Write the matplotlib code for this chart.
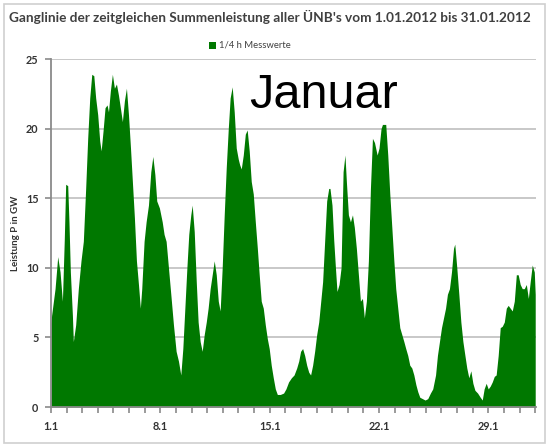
import matplotlib
matplotlib.use("Agg")
import matplotlib.pyplot as plt
from matplotlib.patches import Rectangle

# ---- data ----
days = [0.0, 0.04, 0.26, 0.43, 0.58, 0.73, 0.85, 0.94, 1.07, 1.15, 1.24, 1.37, 1.43, 1.58, 1.75, 1.92,
        2.07, 2.22, 2.35, 2.48, 2.61, 2.74, 2.86, 2.99, 3.12, 3.21, 3.33, 3.46, 3.59, 3.68, 3.80, 3.93,
        4.06, 4.19, 4.32, 4.44, 4.57, 4.70, 4.83, 4.96, 5.09, 5.21, 5.34, 5.47, 5.60, 5.72,
        5.81, 5.96, 6.09, 6.24, 6.39, 6.52, 6.65, 6.77, 6.94, 7.12, 7.24, 7.37, 7.52, 7.67, 7.84, 8.01,
        8.16, 8.31, 8.44, 8.57, 8.70, 8.82, 8.95, 9.04, 9.17, 9.30, 9.42, 9.55, 9.68, 9.81, 9.94, 10.06,
        10.19, 10.32, 10.45, 10.58, 10.71, 10.83, 10.96, 11.09, 11.22, 11.35, 11.47, 11.60, 11.73, 11.86,
        11.99, 12.08, 12.18, 12.31, 12.44, 12.56, 12.69, 12.82, 12.95, 13.08, 13.21, 13.33, 13.46, 13.59,
        13.72, 13.85, 13.97, 14.10, 14.23, 14.36, 14.49, 14.68, 14.89, 15.04, 15.21, 15.39, 15.56, 15.73,
        15.86, 15.98, 16.11, 16.24, 16.37, 16.50, 16.62, 16.75, 16.88, 17.01, 17.14, 17.27, 17.39, 17.52,
        17.65, 17.78, 17.86, 17.99, 18.10, 18.21, 18.31, 18.44, 18.57, 18.70, 18.82, 18.91, 19.04, 19.17,
        19.30, 19.42, 19.55, 19.68, 19.81, 19.94, 20.06, 20.19, 20.32, 20.45, 20.58, 20.71, 20.88, 21.00,
        21.13, 21.22, 21.43, 21.56, 21.69, 21.82, 21.95, 22.07, 22.20, 22.33, 22.46, 22.59, 22.71, 22.84,
        22.97, 23.10, 23.23, 23.36, 23.48, 23.61, 23.78, 23.95, 24.12, 24.29, 24.44, 24.62, 24.74, 24.87,
        25.00, 25.13, 25.26, 25.38, 25.51, 25.64, 25.77, 25.85, 25.98, 26.11, 26.24, 26.37, 26.50, 26.62,
        26.75, 26.88, 27.01, 27.14, 27.31, 27.48, 27.61, 27.73, 27.86, 27.99, 28.12, 28.25, 28.38, 28.50,
        28.63, 28.76, 28.89, 29.02, 29.15, 29.27, 29.40, 29.53, 29.66, 29.79, 29.91, 30.04, 30.17, 30.30,
        30.43, 30.56, 30.68, 30.81, 30.94, 31.0]
power_gw = [6.0, 6.6, 8.5, 10.8, 9.7, 7.6, 12.0, 16.0, 15.9, 13.3, 9.7, 6.6, 4.7, 5.9, 8.5, 10.5,
            11.9, 15.7, 19.3, 22.2, 23.9, 23.8, 22.2, 21.0, 19.1, 18.4, 19.8, 21.5, 21.7, 21.2, 22.7, 23.9,
            22.9, 23.2, 22.4, 21.5, 20.5, 22.0, 22.9, 21.0, 18.6, 16.2, 13.6, 10.5, 8.8, 7.1,
            8.5, 11.9, 13.3, 14.5, 16.9, 18.0, 16.7, 14.8, 14.3, 13.3, 12.4, 11.9, 10.0, 8.1, 5.9, 4.0,
            3.3, 2.3, 4.2, 7.1, 10.0, 12.4, 13.8, 14.5, 12.6, 9.0, 6.1, 4.7, 4.0, 5.2, 6.1, 7.1,
            8.5, 9.5, 10.5, 9.5, 7.6, 6.9, 10.0, 13.8, 17.2, 20.0, 22.2, 23.0, 21.2, 18.6,
            17.8, 17.4, 17.1, 18.1, 19.6, 19.9, 18.4, 16.2, 15.3, 13.3, 11.4, 9.5, 7.6, 7.1,
            5.9, 4.9, 4.2, 3.0, 2.1, 1.3, 0.9, 0.9, 1.0, 1.3, 1.8, 2.1, 2.3, 2.8,
            3.3, 4.0, 4.2, 3.7, 3.0, 2.5, 2.3, 3.0, 4.0, 5.2, 6.1, 7.6, 9.0, 11.9,
            14.8, 15.7, 15.7, 14.5, 12.0, 10.0, 8.3, 8.8, 10.0, 16.9, 18.1, 16.2, 13.8, 13.3,
            13.8, 12.9, 11.4, 9.5, 7.6, 7.8, 6.4, 7.6, 10.5, 15.7, 19.3, 19.0, 18.1, 18.6,
            20.0, 20.3, 20.3, 18.1, 15.3, 12.9, 10.5, 8.5, 7.1, 5.7, 5.2, 4.7, 4.2, 3.7,
            3.0, 2.8, 2.3, 1.6, 1.1, 0.7, 0.6, 0.5, 0.6, 1.0, 1.3, 2.3, 3.7, 4.7,
            5.7, 6.4, 7.1, 8.1, 8.5, 9.7, 11.4, 11.7, 10.0, 8.1, 6.1, 4.7, 3.7, 2.8,
            2.1, 2.6, 1.7, 1.2, 1.0, 0.7, 0.5, 1.3, 1.7, 1.3, 1.5, 1.8, 2.2, 2.3,
            3.7, 5.7, 5.8, 6.1, 7.1, 7.3, 7.1, 6.9, 7.6, 9.5, 9.5, 8.8, 8.5, 8.5,
            8.8, 7.8, 9.0, 10.2, 9.7, 8.1]
tick_days = [0, 7, 14, 21, 28]
tick_labels = ["1.1", "8.1", "15.1", "22.1", "29.1"]
y_ticks = [0, 5, 10, 15, 20, 25]

title = "Ganglinie der zeitgleichen Summenleistung aller ÜNB's vom 1.01.2012 bis 31.01.2012"
legend_label = "1/4 h Messwerte"
ylabel = "Leistung P in GW"

W, H = 547, 446
fig = plt.figure(figsize=(W / 100, H / 100), dpi=100)
fig.patch.set_facecolor("white")

# outer frame
fig.patches.append(Rectangle((4 / W, 1 - 443 / H), 541 / W, 439 / H, transform=fig.transFigure,
                             fill=False, edgecolor="#cfcfcf", linewidth=1.2))

ax = fig.add_axes([51 / W, 1 - 407 / H, (536 - 51) / W, (407 - 59) / H])
green = "#007800"
ax.fill_between(days, power_gw, 0, color=green, linewidth=0, zorder=2)

ax.set_xlim(0, 31.05)
ax.set_ylim(0, 25)
ax.set_yticks(y_ticks)
ax.set_yticklabels([str(v) for v in y_ticks])
ax.set_xticks(tick_days)
ax.set_xticklabels(tick_labels)
ax.set_xticks(range(0, 32), minor=True)

ax.grid(axis="y", color="#c4c4c4", linewidth=1.3, zorder=0)
for s in ["top", "right"]:
    ax.spines[s].set_visible(False)
for s in ["left", "bottom"]:
    ax.spines[s].set_color("#8a8a8a")
    ax.spines[s].set_linewidth(1.3)
ax.tick_params(axis="both", which="both", color="#8a8a8a", length=4, width=1.2, direction="out",
               labelsize=7.8, labelcolor="#333333")
ax.tick_params(axis="x", which="major", pad=6)
ax.tick_params(axis="y", which="major", pad=5)
for lab in ax.get_xticklabels() + ax.get_yticklabels():
    lab.set_fontweight("bold")
    lab.set_family("Lato")
ax.set_axisbelow(True)

ax.set_ylabel(ylabel, fontsize=7, fontweight="bold", color="#333333", family="Lato")
ax.yaxis.set_label_coords(-0.064, 0.5)

# title
fig.text(270 / W, 1 - 17 / H, title, ha="center", va="center", fontsize=9.8, fontweight="bold",
         color="#404040", family="Lato")

# legend
fig.patches.append(Rectangle((209 / W, 1 - 49 / H), 7 / W, 7 / H, transform=fig.transFigure,
                             facecolor=green, edgecolor="none"))
fig.text(219 / W, 1 - 45.5 / H, legend_label, ha="left", va="center", fontsize=6.8,
         color="#404040", family="Lato")

# big annotation
fig.text(249 / W, 1 - 108 / H, "Januar", ha="left", va="baseline", fontsize=35,
         color="black", family="Liberation Sans")

fig.savefig("out.png", dpi=100)
